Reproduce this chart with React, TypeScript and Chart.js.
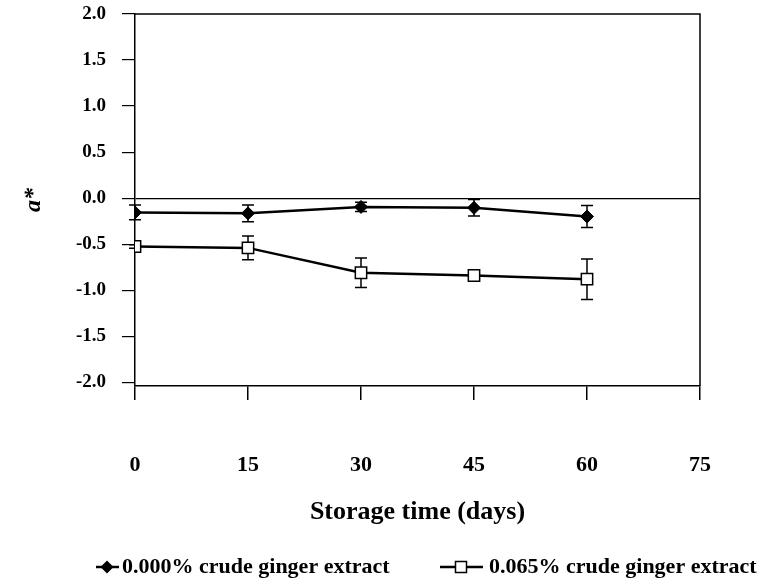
import React, { useEffect, useRef } from "react";
import { Chart, registerables } from "chart.js";

Chart.register(...registerables);

const days = [0, 15, 30, 45, 60];
const control = [-0.155, -0.165, -0.095, -0.105, -0.2];
const controlErr = [0.08, 0.09, 0.05, 0.09, 0.12];
const ginger = [-0.525, -0.54, -0.81, -0.84, -0.88];
const gingerErr = [0.02, 0.13, 0.16, 0.02, 0.22];
const xTicks = [0, 15, 30, 45, 60, 75];
const yTicks = [-2, -1.5, -1, -0.5, 0, 0.5, 1, 1.5, 2];
const seriesNames = ["0.000% crude ginger extract", "0.065% crude ginger extract"];
const errors = [controlErr, gingerErr];

const SERIF = "'Liberation Serif', 'Times New Roman', serif";

const boxAndErrors = {
  id: "boxAndErrors",
  beforeDatasetsDraw(chart: any) {
    const { ctx, chartArea, scales } = chart;
    ctx.save();
    ctx.strokeStyle = "#000";
    ctx.lineWidth = 1.5;
    ctx.beginPath();
    ctx.moveTo(chartArea.left, chartArea.top);
    ctx.lineTo(chartArea.right, chartArea.top);
    ctx.lineTo(chartArea.right, chartArea.bottom);
    ctx.stroke();
    ctx.lineWidth = 1.5;
    chart.data.datasets.forEach((ds: any, di: number) => {
      const errs = errors[di];
      ds.data.forEach((pt: any, i: number) => {
        const e = errs[i];
        const x = scales.x.getPixelForValue(pt.x);
        const y1 = scales.y.getPixelForValue(pt.y + e);
        const y2 = scales.y.getPixelForValue(pt.y - e);
        ctx.beginPath();
        ctx.moveTo(x, y1);
        ctx.lineTo(x, y2);
        ctx.moveTo(x - 6, y1);
        ctx.lineTo(x + 6, y1);
        ctx.moveTo(x - 6, y2);
        ctx.lineTo(x + 6, y2);
        ctx.stroke();
      });
    });
    ctx.restore();
  },
  afterDraw(chart: any) {
    const { ctx } = chart;
    ctx.save();
    ctx.strokeStyle = "#000";
    ctx.fillStyle = "#000";
    const y = 567;
    // item 1
    ctx.lineWidth = 2.5;
    ctx.beginPath();
    ctx.moveTo(96, y);
    ctx.lineTo(119, y);
    ctx.stroke();
    ctx.beginPath();
    ctx.moveTo(107, y - 6.5);
    ctx.lineTo(113.5, y);
    ctx.lineTo(107, y + 6.5);
    ctx.lineTo(100.5, y);
    ctx.closePath();
    ctx.fill();
    // item 2
    ctx.beginPath();
    ctx.moveTo(440, y);
    ctx.lineTo(483, y);
    ctx.stroke();
    ctx.fillStyle = "#fff";
    ctx.lineWidth = 1.5;
    ctx.fillRect(455.5, y - 5.5, 11, 11);
    ctx.strokeRect(455.5, y - 5.5, 11, 11);
    ctx.fillStyle = "#000";
    ctx.font = `bold 22px ${SERIF}`;
    ctx.textBaseline = "middle";
    ctx.textAlign = "left";
    ctx.fillText(seriesNames[0], 122, y);
    ctx.fillText(seriesNames[1], 489, y);
    ctx.restore();
  },
};

export default function App() {
  const ref = useRef<HTMLCanvasElement>(null);
  useEffect(() => {
    document.body.style.margin = "0";
    const chart = new Chart(ref.current as HTMLCanvasElement, {
      type: "line",
      data: {
        datasets: [
          {
            label: seriesNames[0],
            data: days.map((d, i) => ({ x: d, y: control[i] })),
            borderColor: "#000",
            borderWidth: 2.5,
            pointStyle: "rectRot",
            pointRadius: 6.5,
            pointBackgroundColor: "#000",
            pointBorderColor: "#000",
            pointBorderWidth: 1,
          },
          {
            label: seriesNames[1],
            data: days.map((d, i) => ({ x: d, y: ginger[i] })),
            borderColor: "#000",
            borderWidth: 2.5,
            pointStyle: "rect",
            pointRadius: 8,
            pointBackgroundColor: "#fff",
            pointBorderColor: "#000",
            pointBorderWidth: 1.5,
          },
        ],
      },
      options: {
        animation: false,
        responsive: false,
        layout: { padding: { top: 14, right: 64, bottom: 59, left: 0 } },
        plugins: { legend: { display: false }, tooltip: { enabled: false } },
        scales: {
          x: {
            type: "linear",
            min: 0,
            max: 75,
            afterBuildTicks: (s: any) => {
              s.ticks = xTicks.map((v) => ({ value: v }));
            },
            afterFit: (s: any) => {
              s.height = 142;
              s.paddingLeft = 0;
              s.paddingRight = 0;
            },
            border: { color: "#000", width: 1.5 },
            grid: { drawOnChartArea: false, tickColor: "#000", tickLength: 14, lineWidth: 1.5 },
            ticks: {
              color: "#000",
              padding: 52,
              font: { family: SERIF, size: 22, weight: "bold" },
            },
            title: {
              display: true,
              text: "Storage time (days)",
              color: "#000",
              padding: { top: 0, bottom: 0 },
              font: { family: SERIF, size: 26, weight: "bold" },
            },
          },
          y: {
            type: "linear",
            min: -2.04,
            max: 2,
            afterBuildTicks: (s: any) => {
              s.ticks = yTicks.map((v) => ({ value: v }));
            },
            afterFit: (s: any) => {
              s.width = 135;
              s.paddingTop = 0;
              s.paddingBottom = 0;
            },
            border: { color: "#000", width: 1.5 },
            grid: {
              color: (c: any) => (c.tick && c.tick.value === 0 ? "#000" : "rgba(0,0,0,0)"),
              tickColor: "#000",
              tickLength: 13,
              lineWidth: 1.2,
            },
            ticks: {
              color: "#000",
              padding: 16,
              font: { family: SERIF, size: 19, weight: "bold" },
              callback: (v: any) => Number(v).toFixed(1),
            },
            title: {
              display: true,
              text: "a*",
              color: "#000",
              padding: { top: 19, bottom: 0 },
              font: { family: SERIF, size: 24, weight: "bold", style: "italic" },
            },
          },
        },
      },
      plugins: [boxAndErrors],
    });
    return () => chart.destroy();
  }, []);
  return <canvas ref={ref} width={764} height={587} style={{ display: "block" }} />;
}
